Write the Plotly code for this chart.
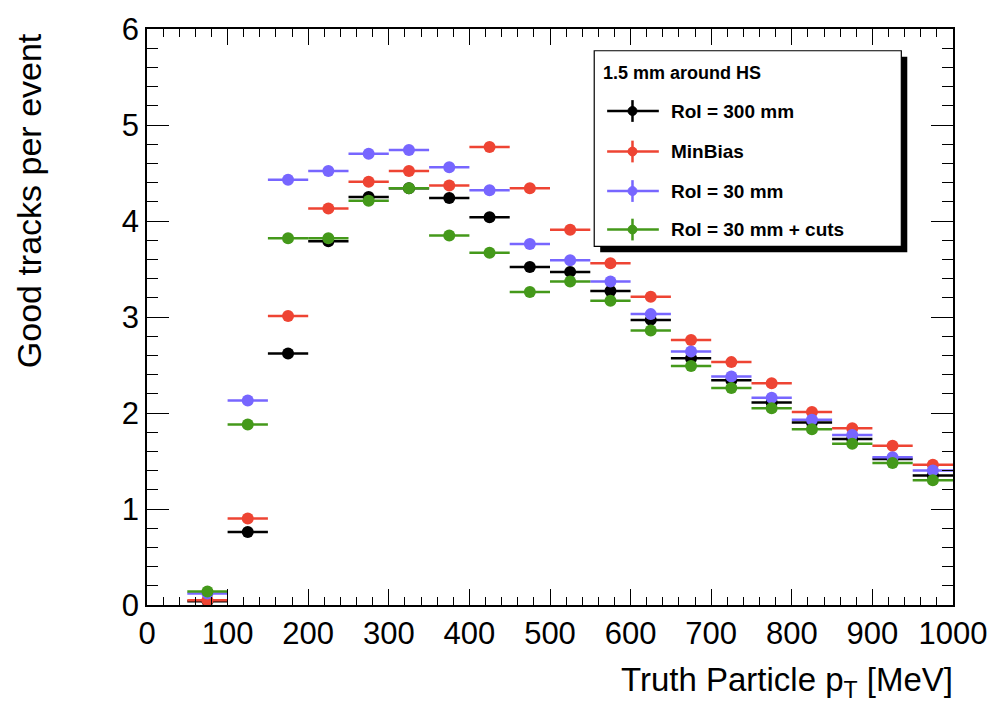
import plotly.graph_objects as go

bin_centers = [75, 125, 175, 225, 275, 325, 375, 425, 475, 525, 575, 625, 675, 725, 775, 825, 875, 925, 975]
bin_half_width = 25

roi300 = [0.04, 0.76, 2.62, 3.79, 4.25, 4.34, 4.24, 4.04, 3.52, 3.47, 3.27, 2.97, 2.57, 2.34, 2.11, 1.90, 1.73, 1.52, 1.35]
minbias = [0.05, 0.90, 3.01, 4.13, 4.41, 4.52, 4.37, 4.77, 4.34, 3.91, 3.56, 3.21, 2.76, 2.53, 2.31, 2.01, 1.84, 1.66, 1.46]
roi30 = [0.12, 2.13, 4.43, 4.52, 4.70, 4.74, 4.56, 4.32, 3.76, 3.59, 3.37, 3.03, 2.64, 2.38, 2.16, 1.93, 1.77, 1.54, 1.40]
roi30cuts = [0.14, 1.88, 3.82, 3.82, 4.21, 4.34, 3.85, 3.67, 3.26, 3.37, 3.17, 2.86, 2.49, 2.26, 2.05, 1.83, 1.68, 1.48, 1.30]

series_names = ["RoI = 300 mm", "MinBias", "RoI = 30 mm", "RoI = 30 mm + cuts"]
series_values = [roi300, minbias, roi30, roi30cuts]
series_colors = ["#000000", "#EE4433", "#7766FF", "#44991A"]

legend_title = "1.5 mm around HS"
x_title = "Truth Particle p<sub>T</sub> [MeV]"
y_title = "Good tracks per event"

fig = go.Figure()
for name, vals, col in zip(series_names, series_values, series_colors):
    fig.add_trace(go.Scatter(
        x=bin_centers, y=vals, mode="markers", name=name,
        marker=dict(color=col, size=12, symbol="circle"),
        error_x=dict(type="constant", value=bin_half_width, color=col, thickness=2.5, width=0),
        error_y=dict(type="constant", value=0.02, color=col, thickness=2.5, width=0),
        showlegend=False,
    ))

tickfont = dict(family="Liberation Sans, Arial", size=31, color="black")

fig.update_layout(
    width=999, height=707,
    margin=dict(l=147, r=41, t=22, b=102),
    paper_bgcolor="white", plot_bgcolor="white",
    xaxis=dict(range=[0, 1000], tickmode="linear", tick0=0, dtick=100,
               ticks="inside", ticklen=16, tickwidth=1.2, tickcolor="black",
               minor=dict(ticks="inside", ticklen=8, dtick=20, tickcolor="black", tickwidth=1),
               showline=True, linecolor="black", linewidth=1.5, mirror="ticks",
               showgrid=False, zeroline=False, tickfont=tickfont),
    yaxis=dict(range=[0, 6], tickmode="linear", tick0=0, dtick=1,
               ticks="inside", ticklen=22, tickwidth=1.2, tickcolor="black",
               minor=dict(ticks="inside", ticklen=11, dtick=0.2, tickcolor="black", tickwidth=1),
               showline=True, linecolor="black", linewidth=1.5, mirror="ticks",
               showgrid=False, zeroline=False, tickfont=tickfont),
    font=dict(family="Liberation Sans, Arial", color="black"),
)

W, H = 811.0, 583.0
def px(xp):
    return (xp - 147) / W
def py(yp):
    return (605 - yp) / H

# Axis titles
fig.add_annotation(text=x_title, xref="paper", yref="paper", x=px(960), y=py(683),
                   xanchor="right", yanchor="middle", showarrow=False,
                   font=dict(family="Liberation Sans, Arial", size=33, color="black"))
fig.add_annotation(text=y_title, xref="paper", yref="paper", x=px(29), y=py(24),
                   xanchor="center", yanchor="top", textangle=-90, showarrow=False,
                   font=dict(family="Liberation Sans, Arial", size=34, color="black"))

# Manual legend (paper coords)
lx0, lx1, ly0, ly1 = 597, 906, 44, 242
fig.add_shape(type="rect", xref="paper", yref="paper",
              x0=px(lx0 + 6), x1=px(lx1 + 6), y0=py(ly1 + 6), y1=py(ly0 + 6),
              fillcolor="black", line=dict(width=0))
fig.add_shape(type="rect", xref="paper", yref="paper",
              x0=px(lx0), x1=px(lx1), y0=py(ly1), y1=py(ly0),
              fillcolor="white", line=dict(color="black", width=1.2))
fig.add_annotation(text="<b>" + legend_title + "</b>", xref="paper", yref="paper",
                   x=px(604), y=py(67), xanchor="left", yanchor="middle", showarrow=False,
                   font=dict(family="Liberation Sans, Arial", size=18, color="black"))
entry_y = [105, 146, 186, 225]
for name, col, ey in zip(series_names, series_colors, entry_y):
    fig.add_shape(type="line", xref="paper", yref="paper",
                  x0=px(610), x1=px(662), y0=py(ey), y1=py(ey),
                  line=dict(color=col, width=2.5))
    fig.add_shape(type="line", xref="paper", yref="paper",
                  x0=px(635.5), x1=px(635.5), y0=py(ey - 11), y1=py(ey + 11),
                  line=dict(color=col, width=2.5))
    fig.add_shape(type="circle", xref="paper", yref="paper",
                  x0=px(631), x1=px(640), y0=py(ey + 4.5), y1=py(ey - 4.5),
                  fillcolor=col, line=dict(color=col, width=1))
    fig.add_annotation(text="<b>" + name + "</b>", xref="paper", yref="paper",
                       x=px(672), y=py(ey), xanchor="left", yanchor="middle", showarrow=False,
                       font=dict(family="Liberation Sans, Arial", size=19, color="black"))

fig.write_html("out.html")
